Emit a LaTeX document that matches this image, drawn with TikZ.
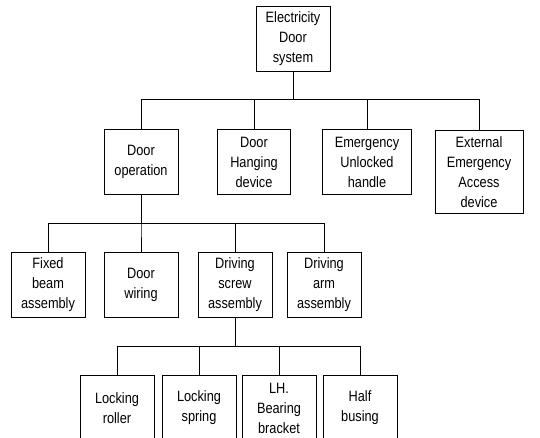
\documentclass[tikz,border=0pt]{standalone}
\usepackage{fontspec}
\newfontfamily\boxfont[FakeStretch=0.85]{Liberation Sans}
\usetikzlibrary{positioning}

\begin{document}
\begin{tikzpicture}[x=1pt,y=-1pt,line width=1pt,
	partnode/.style={rectangle,draw,anchor=north,align=center,inner sep=3pt,
		minimum width=74pt,minimum height=65pt,font=\boxfont\fontsize{15}{20}\selectfont},
	widenode/.style={partnode,minimum width=89pt}]

	\useasboundingbox (0,0) rectangle (540,437);

	% top level
	\node [partnode] (sys) at (293, 6) {Electricity\\Door\\system};

	% first level
	\node [partnode] (op) at (141, 129) {Door\\operation};
	\node [partnode,minimum width=73pt] (hang) at (254, 129) {Door\\Hanging\\device};
	\node [widenode] (unlock) at (367, 129) {Emergency\\Unlocked\\handle};
	\node [widenode,minimum width=88pt,minimum height=83pt] (ext) at (479, 130) {External\\Emergency\\Access\\device};

	% second level
	\node [partnode] (beam) at (48, 252) {Fixed\\beam\\assembly};
	\node [partnode] (wiring) at (141, 252) {Door\\wiring};
	\node [partnode] (screw) at (235, 252) {Driving\\screw\\assembly};
	\node [partnode] (arm) at (324, 252) {Driving\\arm\\assembly};

	% third level
	\node [partnode] (roller) at (117, 375) {Locking\\roller};
	\node [partnode] (spring) at (199, 375) {Locking\\spring};
	\node [partnode] (bracket) at (279, 375) {LH.\\Bearing\\bracket};
	\node [partnode] (bush) at (360, 375) {Half\\busing};

	% bus lines
	\coordinate (bus1) at (0, 99);
	\coordinate (bus2) at (0, 223);
	\coordinate (bus3) at (0, 346);

	\foreach \child in {op, hang, unlock, ext}
		\draw (sys.south) -- (sys.south |- bus1) -| (\child.north);
	\foreach \child in {beam, wiring, screw, arm}
		\draw (op.south) -- (op.south |- bus2) -| (\child.north);
	\foreach \child in {roller, spring, bracket, bush}
		\draw (screw.south) -- (screw.south |- bus3) -| (\child.north);

\end{tikzpicture}
\end{document}
